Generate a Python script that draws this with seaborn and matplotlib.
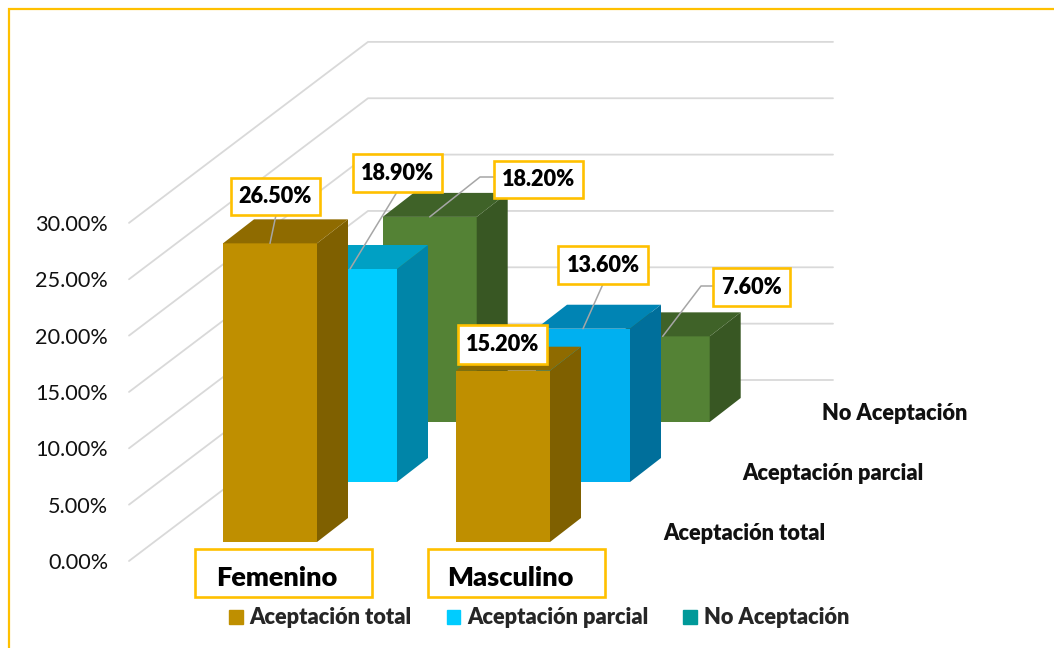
import matplotlib
matplotlib.use('Agg')
import matplotlib.pyplot as plt
from matplotlib.patches import Patch, Rectangle
import pandas as pd
import seaborn as sns

# data
sexo = ['Femenino', 'Masculino']
series = ['Aceptación total', 'Aceptación parcial', 'No Aceptación']
total = [26.5, 15.2]
parcial = [18.9, 13.6]
no_acept = [18.2, 7.6]
ticks = [0, 5, 10, 15, 20, 25, 30]

# colours front / top / side for every bar
gold = {'front': ['#BF8F00', '#BF8F00'], 'top': ['#8F6B00', '#8F6B00'], 'side': ['#7F6000', '#7F6000']}
blue = {'front': ['#00CCFF', '#00B0F0'], 'top': ['#00A0C4', '#0084B4'], 'side': ['#0085A8', '#006F9B']}
green = {'front': ['#548235', '#548235'], 'top': ['#3F6228', '#3F6228'], 'side': ['#385723', '#385723']}
legend_colors = ['#BF8F00', '#00CCFF', '#009999']
yellow = '#FFC000'
grid_color = '#D9D9D9'

sns.set_theme(style='white')
plt.rcParams['font.family'] = ['Lato', 'DejaVu Sans']

W, H = 1054, 648
PX = 11.27     # pixels for 1 %
STEP = 233     # pixels between the two categories
DX, DY = 31, 24  # depth of one bar


def place(left, base, width, height):
    # axes from pixel position, y measured from the top of the picture
    ax = fig.add_axes([left / W, (H - base) / H, width / W, height / H])
    ax.patch.set_alpha(0)
    return ax


fig = plt.figure(figsize=(W / 100, H / 100), dpi=100, facecolor='white')

# walls and y axis
wall = place(129, 561, 704, 30 * PX)
wall.set_xlim(0, 704)
wall.set_ylim(0, 30)
rise = 181 / PX
for t in ticks:
    wall.plot([0, 239, 704], [t, t + rise, t + rise], color=grid_color, lw=1.3, clip_on=False)
wall.set_xticks([])
wall.set_yticks(ticks)
wall.set_yticklabels([f'{t:.2f}%' for t in ticks], fontsize=15.6, color='#111111')
wall.tick_params(axis='y', length=0, pad=15)
sns.despine(ax=wall, left=True, bottom=True)


def draw_series(values, colors, center, base):
    ax = place(center - STEP / 2, base, 2 * STEP, 30 * PX)
    df = pd.DataFrame({'sexo': sexo, 'valor': values})
    sns.barplot(data=df, x='sexo', y='valor', hue='sexo', palette=colors['front'],
                width=94 / STEP, saturation=1, legend=False, linewidth=0, ax=ax)
    ax.set_xlim(-0.5, 1.5)
    ax.set_ylim(0, 30)
    ax.axis('off')
    dx, dy = DX / STEP, DY / PX
    bars = sorted(ax.patches, key=lambda b: b.get_x())
    for i, b in enumerate(bars):
        x0, x1, v = b.get_x(), b.get_x() + b.get_width(), b.get_height()
        ax.fill([x1, x1 + dx, x1 + dx, x1], [0, dy, v + dy, v], color=colors['side'][i], lw=0, clip_on=False)
        ax.fill([x0, x1, x1 + dx, x0 + dx], [v, v, v + dy, v + dy], color=colors['top'][i], lw=0, clip_on=False)
    return ax


ax3 = draw_series(no_acept, green, 429.7, 422)
ax2 = draw_series(parcial, blue, 350, 482)
ax1 = draw_series(total, gold, 270, 542)

# overlay in pixels for labels and frame
over = fig.add_axes([0, 0, 1, 1])
over.patch.set_alpha(0)
over.set_xlim(0, W)
over.set_ylim(H, 0)
over.axis('off')

over.plot([9, 9, W], [H, 9, 9], color=yellow, lw=1.6, clip_on=False, solid_joinstyle='miter')


def bar_point(ax, x, v):
    return over.transData.inverted().transform(ax.transData.transform((x, v)))


def data_label(ax, i, v, box, elbow=None):
    x0, y0, x1, y1 = box
    if elbow:
        p = bar_point(ax, i, v)
        xs, ys = [p[0]], [p[1]]
        for q in elbow:
            xs.append(q[0])
            ys.append(q[1])
        over.plot(xs, ys, color='#A6A6A6', lw=1.1, zorder=3)
    over.add_patch(Rectangle((x0, y0), x1 - x0, y1 - y0, fc='white', ec=yellow, lw=1.9, zorder=4))
    over.text((x0 + x1) / 2, (y0 + y1) / 2, f'{v:.2f}%', ha='center', va='center',
              fontsize=15.6, fontweight='heavy', color='black', zorder=5)


data_label(ax1, 0, total[0], (231, 178, 320, 215), [(276, 215)])
data_label(ax2, 0, parcial[0], (353, 154, 442, 192), [(397, 192)])
data_label(ax3, 0, no_acept[0], (494, 161, 583, 198), [(480, 177), (494, 177)])
data_label(ax1, 1, total[1], (458, 325, 547, 364))
data_label(ax2, 1, parcial[1], (558, 246, 648, 284), [(603, 284)])
data_label(ax3, 1, no_acept[1], (713, 268, 790, 306), [(701, 286), (713, 286)])

# category boxes
for name, x0, tx in zip(sexo, [195, 428], [216, 447]):
    over.add_patch(Rectangle((x0, 549), 177, 48, fc='white', ec=yellow, lw=1.9, zorder=4))
    over.text(tx, 578, name, ha='left', va='center', fontsize=19.5, fontweight='heavy', color='black', zorder=5)

# depth axis names
for name, x, y in zip(series, [663, 742, 822], [534, 474, 413]):
    over.text(x, y, name, ha='left', va='center', fontsize=15.7, fontweight='heavy', color='#111111')

handles = [Patch(color=c, label=s) for c, s in zip(legend_colors, series)]
over.legend(handles=handles, loc='center', bbox_to_anchor=(539, 618), bbox_transform=over.transData,
            ncol=3, frameon=False, handlelength=0.63, handleheight=0.63, handletextpad=0.3,
            columnspacing=1.62, prop={'size': 15.7, 'weight': 'heavy'})

fig.savefig('out.png', dpi=100)
